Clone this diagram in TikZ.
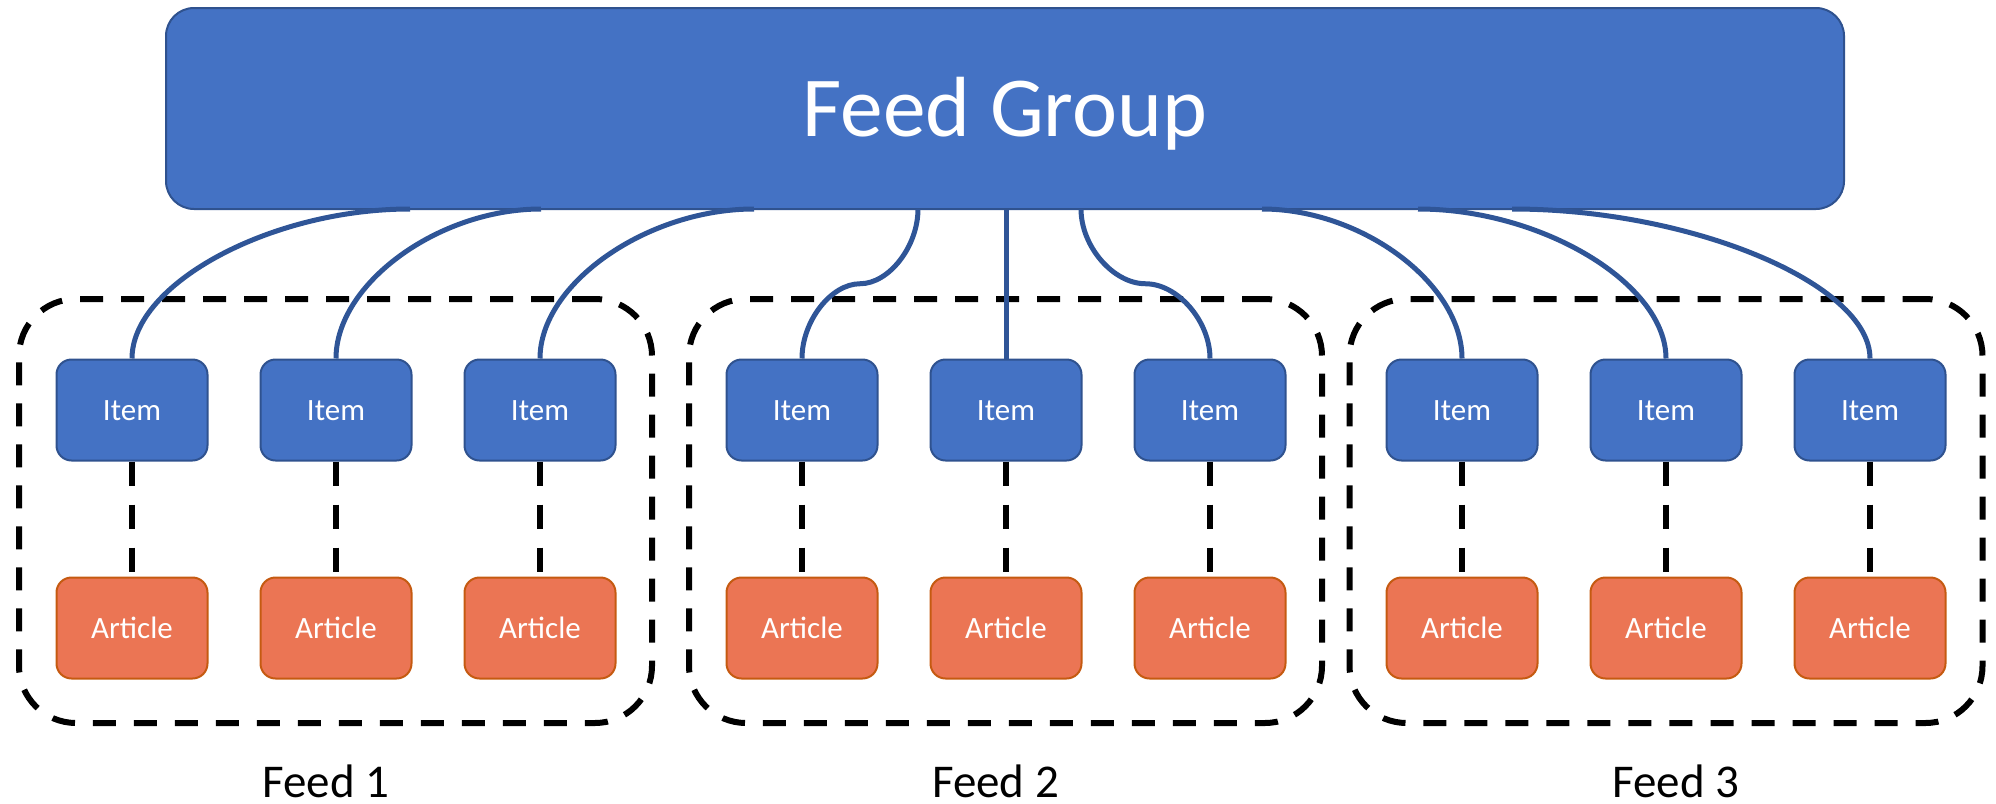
\documentclass[tikz,border=0pt]{standalone}
\usepackage{fontspec}
\setmainfont{Carlito}
\usetikzlibrary{calc}
\definecolor{fgfill}{HTML}{4472C4}
\definecolor{fgline}{HTML}{2F528F}
\definecolor{conn}{HTML}{2F5597}
\definecolor{artfill}{RGB}{235,117,84}
\definecolor{artline}{HTML}{C55A11}
\newcommand\qcurve[2]{\draw[link] (#1) .. controls ($(#1)!0.5!(#2.north |- #1)$) and ($(#2.north)!0.5!(#2.north |- #1)$) .. (#2.north);}
\newcommand\scurve[2]{\coordinate (m#2) at ($(#1)!0.5!(#2.north)$);
  \draw[link] (#1) .. controls ($(#1)!0.5!(#1 |- m#2)$) and ($(#1 |- m#2)!0.5!(m#2)$) .. (m#2)
    .. controls ($(m#2)!0.5!(#2.north |- m#2)$) and ($(#2.north)!0.5!(#2.north |- m#2)$) .. (#2.north);}
\begin{document}
\begin{tikzpicture}[x=0.5pt,y=-0.5pt,
  box/.style={rectangle, rounded corners=7.5pt, minimum width=75.5pt, minimum height=50.5pt, inner sep=0pt, line width=1pt, text=white, font=\fontsize{15.5}{18}\selectfont, text height=10pt, text depth=0pt},
  itembox/.style={box, fill=fgfill, draw=fgline},
  artbox/.style={box, fill=artfill, draw=artline},
  groupbox/.style={rectangle, rounded corners=14pt, minimum width=839pt, minimum height=100.5pt, fill=fgfill, draw=fgline, line width=1pt, text=white, font=\fontsize{42.7}{50}\selectfont, text height=27.5pt, text depth=0pt, inner sep=0pt},
  feedbox/.style={rectangle, rounded corners=28.5pt, minimum width=316.5pt, minimum height=212pt, draw=black, line width=3pt, dash pattern=on 11.5pt off 9pt, inner sep=0pt},
  feedlabel/.style={font=\fontsize{23.5}{28}\selectfont, anchor=base, inner sep=0pt},
  link/.style={draw=conn, line width=2.5pt},
  dashlink/.style={draw=black, line width=3pt, dash pattern=on 12pt off 9.5pt}
]
\useasboundingbox (0,0) rectangle (1996,803);
% feed containers
\node[feedbox] (f1) at (335.5,511) {};
\node[feedbox] (f2) at (1005.5,511) {};
\node[feedbox] (f3) at (1666,511) {};
\node[feedlabel] (l1) at (326,797) {Feed 1};
\node[feedlabel] (l2) at (995.5,797) {Feed 2};
\node[feedlabel] (l3) at (1676,797) {Feed 3};
% group
\node[groupbox] (fg) at (1005,108.5) {Feed Group};
% items and articles
\foreach \n/\x in {1/132,2/336,3/540,4/802,5/1006,6/1210,7/1462,8/1666,9/1870}{
  \node[itembox] (i\n) at (\x,410) {Item};
  \node[artbox] (r\n) at (\x,628) {Article};
  \draw[dashlink] (i\n.south) -- (r\n.north);
}
% attachment points on the group
\coordinate (a1) at (410,209);
\coordinate (a2) at (541,209);
\coordinate (a3) at (754,209);
\coordinate (a4) at (918,209);
\coordinate (a6) at (1081,209);
\coordinate (a7) at (1262,209);
\coordinate (a8) at (1418,209);
\coordinate (a9) at (1512,209);
\qcurve{a1}{i1}
\qcurve{a2}{i2}
\qcurve{a3}{i3}
\scurve{a4}{i4}
\draw[link] (i5.north) -- (i5.north |- fg.south);
\scurve{a6}{i6}
\qcurve{a7}{i7}
\qcurve{a8}{i8}
\qcurve{a9}{i9}
\end{tikzpicture}
\end{document}
